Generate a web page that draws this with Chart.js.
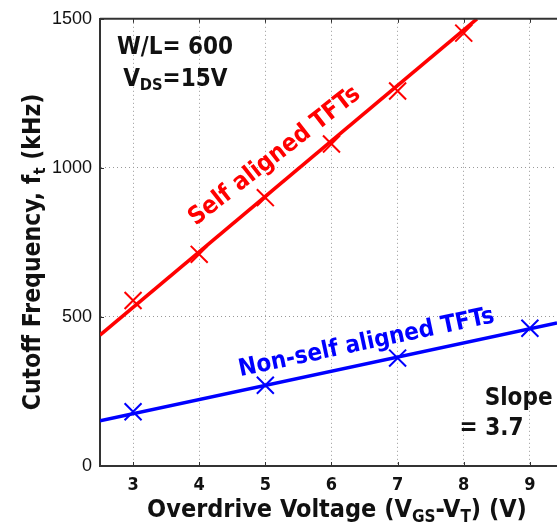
<!DOCTYPE html>
<html>
<head>
<meta charset="utf-8">
<script src="https://cdn.jsdelivr.net/npm/chart.js@4/dist/chart.umd.min.js"></script>
<style>
  html, body { margin: 0; padding: 0; background: #fff; }
  #wrap { width: 557px; height: 525px; overflow: hidden; }
  #inner { width: 571px; height: 525px; position: relative; }
</style>
</head>
<body>
<div id="wrap"><div id="inner"><canvas id="cutoffChart"></canvas></div></div>
<script>
// Measured points (overdrive voltage V, cutoff frequency kHz)
var selfAlignedX = [3, 4, 5, 6, 7, 8];
var selfAlignedY = [555, 710, 900, 1080, 1258, 1452];
var nonSelfX = [3, 5, 7, 9];
var nonSelfY = [182, 271, 362, 462];

// Linear fits drawn across the plot
var selfFitX = [2.5, 8.2];
var selfFitY = [439, 1500];
var nonSelfFitX = [2.5, 9.41];
var nonSelfFitY = [152, 480];

var xTicks = [3, 4, 5, 6, 7, 8, 9];
var yTicks = [0, 500, 1000, 1500];

var FONT = '"DejaVu Sans Condensed", "DejaVu Sans", sans-serif';

function pts(xs, ys) {
    return xs.map(function (x, i) { return { x: x, y: ys[i] }; });
}

// draws a string made of runs, some of them subscripts
function drawRuns(ctx, runs, size, x, y, align) {
    var widths = runs.map(function (r) {
        ctx.font = 'bold ' + (r.sub ? size * 0.68 : size) + 'px ' + FONT;
        return ctx.measureText(r.t).width;
    });
    var total = widths.reduce(function (a, b) { return a + b; }, 0);
    var cx = align === 'center' ? x - total / 2 : x;
    ctx.textAlign = 'left';
    ctx.textBaseline = 'alphabetic';
    runs.forEach(function (r, i) {
        ctx.font = 'bold ' + (r.sub ? size * 0.68 : size) + 'px ' + FONT;
        ctx.fillText(r.t, cx, y + (r.sub ? size * 0.2 : 0));
        cx += widths[i];
    });
}

var labelsPlugin = {
    id: 'labels',
    afterDraw: function (chart) {
        var ctx = chart.ctx;
        var xs = chart.scales.x, ys = chart.scales.y;
        var area = chart.chartArea;
        ctx.save();

        // box line along the top, small inward ticks
        ctx.strokeStyle = '#333';
        ctx.lineWidth = 2;
        ctx.beginPath();
        ctx.moveTo(area.left, area.top);
        ctx.lineTo(area.right, area.top);
        ctx.stroke();
        ctx.lineWidth = 1;
        ctx.beginPath();
        xTicks.forEach(function (v) {
            var px = Math.round(xs.getPixelForValue(v)) + 0.5;
            ctx.moveTo(px, area.bottom);
            ctx.lineTo(px, area.bottom - 4);
            ctx.moveTo(px, area.top);
            ctx.lineTo(px, area.top + 4);
        });
        yTicks.forEach(function (v) {
            var py = Math.round(ys.getPixelForValue(v)) + 0.5;
            ctx.moveTo(area.left, py);
            ctx.lineTo(area.left + 4, py);
        });
        ctx.stroke();

        ctx.fillStyle = '#111';

        // axis titles
        drawRuns(ctx, [{ t: 'Overdrive Voltage (V' }, { t: 'GS', sub: true }, { t: '-V' }, { t: 'T', sub: true }, { t: ') (V)' }],
            25, 337, 517, 'center');
        ctx.save();
        ctx.translate(40, 252);
        ctx.rotate(-Math.PI / 2);
        drawRuns(ctx, [{ t: 'Cutoff Frequency, f' }, { t: 't', sub: true }, { t: ' (kHz)' }], 24.5, 0, 0, 'center');
        ctx.restore();

        // device info
        drawRuns(ctx, [{ t: 'W/L= 600' }], 24, xs.getPixelForValue(2.757), ys.getPixelForValue(1383), 'left');
        drawRuns(ctx, [{ t: 'V' }, { t: 'DS', sub: true }, { t: '=15V' }], 24, xs.getPixelForValue(2.85), ys.getPixelForValue(1276), 'left');

        // slope ratio
        drawRuns(ctx, [{ t: 'Slope ratio' }], 24, xs.getPixelForValue(8.316), ys.getPixelForValue(204), 'left');
        drawRuns(ctx, [{ t: '= 3.7' }], 24, xs.getPixelForValue(8.42), ys.getPixelForValue(104), 'center');

        // series labels along the fit lines
        ctx.fillStyle = '#ff0000';
        ctx.save();
        ctx.translate(xs.getPixelForValue(5.2), ys.getPixelForValue(1022));
        ctx.rotate(-38 * Math.PI / 180);
        drawRuns(ctx, [{ t: 'Self aligned TFTs' }], 24.5, 0, 0, 'center');
        ctx.restore();

        ctx.fillStyle = '#0000ff';
        ctx.save();
        ctx.translate(xs.getPixelForValue(6.55), ys.getPixelForValue(392));
        ctx.rotate(-12 * Math.PI / 180);
        drawRuns(ctx, [{ t: 'Non-self aligned TFTs' }], 24, 0, 0, 'center');
        ctx.restore();

        ctx.restore();
    }
};

document.addEventListener('DOMContentLoaded', function () {
    var ctx = document.getElementById('cutoffChart').getContext('2d');
    var chart = new Chart(ctx, {
        type: 'scatter',
        data: {
            datasets: [{
                data: pts(selfFitX, selfFitY),
                showLine: true,
                borderColor: '#ff0000',
                borderWidth: 3.5,
                pointRadius: 0
            }, {
                data: pts(nonSelfFitX, nonSelfFitY),
                showLine: true,
                borderColor: '#0000ff',
                borderWidth: 3.5,
                pointRadius: 0
            }, {
                data: pts(selfAlignedX, selfAlignedY),
                showLine: false,
                pointStyle: 'crossRot',
                pointRadius: 12,
                borderColor: '#ff0000',
                borderWidth: 2
            }, {
                data: pts(nonSelfX, nonSelfY),
                showLine: false,
                pointStyle: 'crossRot',
                pointRadius: 12,
                borderColor: '#0000ff',
                borderWidth: 2
            }]
        },
        options: {
            responsive: true,
            maintainAspectRatio: false,
            animation: false,
            layout: { padding: { top: 18, right: 0, left: 0, bottom: 0 } },
            plugins: {
                legend: { display: false },
                tooltip: { enabled: false }
            },
            scales: {
                x: {
                    type: 'linear',
                    min: 2.5,
                    max: 9.41,
                    afterBuildTicks: function (s) {
                        s.ticks = xTicks.map(function (v) { return { value: v }; });
                    },
                    afterFit: function (s) { s.height = 59; },
                    grid: {
                        color: '#999999',
                        lineWidth: 1,
                        drawTicks: false
                    },
                    border: { color: '#333', width: 2, dash: [1, 3] },
                    ticks: {
                        padding: 9,
                        color: '#111',
                        font: { family: FONT, size: 18, weight: 'bold' }
                    }
                },
                y: {
                    type: 'linear',
                    min: 0,
                    max: 1500,
                    afterBuildTicks: function (s) {
                        s.ticks = yTicks.map(function (v) { return { value: v }; });
                    },
                    afterFit: function (s) { s.width = 100; },
                    grid: {
                        color: '#999999',
                        lineWidth: 1,
                        drawTicks: false
                    },
                    border: { color: '#333', width: 2, dash: [1, 3] },
                    ticks: {
                        padding: 8,
                        color: '#111',
                        font: { family: '"Liberation Sans", Arial, sans-serif', size: 18 },
                        callback: function (v) { return String(v); }
                    }
                }
            }
        },
        plugins: [labelsPlugin]
    });
});
</script>
</body>
</html>
